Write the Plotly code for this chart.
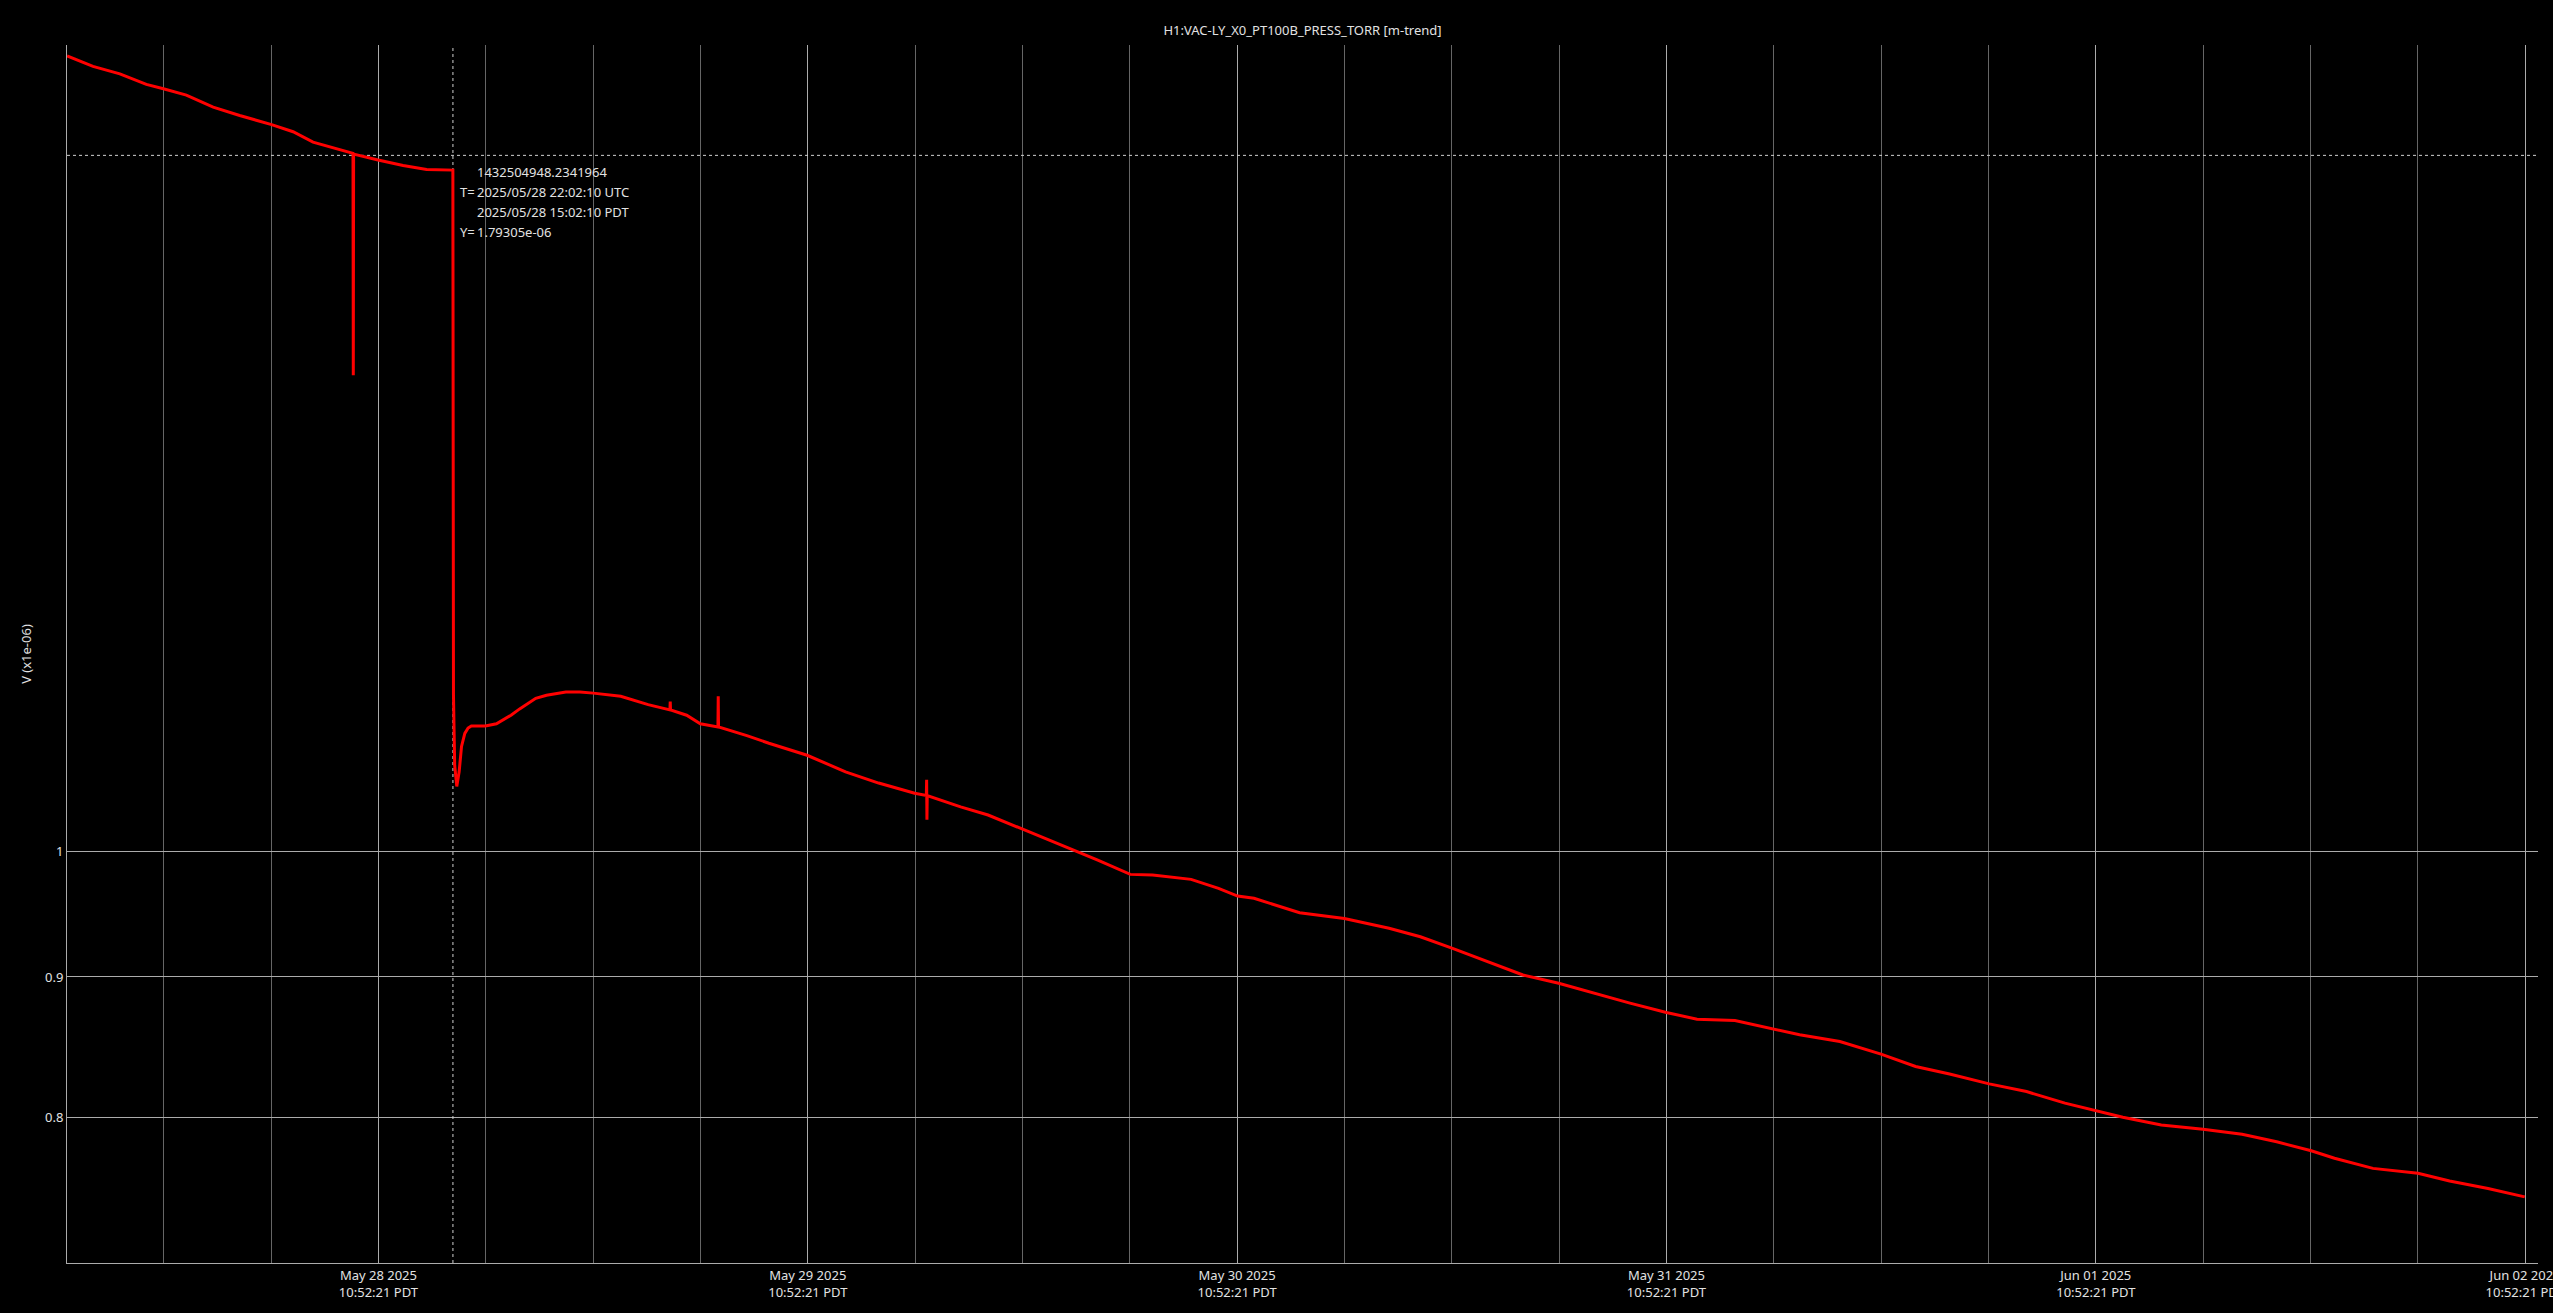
import math
import pandas as pd
import plotly.graph_objects as go

# ---- data (pressure in units of 1e-6 Torr, local PDT time) ----
times = [
    "2025-05-27 17:28", "2025-05-27 18:55", "2025-05-27 20:25", "2025-05-27 21:54",
    "2025-05-27 22:51", "2025-05-28 00:08", "2025-05-28 01:38", "2025-05-28 03:07",
    "2025-05-28 04:54", "2025-05-28 06:06", "2025-05-28 07:13", "2025-05-28 08:32",
    "2025-05-28 09:27", "2025-05-28 09:28", "2025-05-28 09:29", "2025-05-28 10:51",
    "2025-05-28 12:15", "2025-05-28 13:34", "2025-05-28 15:02", "2025-05-28 15:03",
    "2025-05-28 15:04", "2025-05-28 15:08", "2025-05-28 15:15", "2025-05-28 15:23",
    "2025-05-28 15:31", "2025-05-28 15:42", "2025-05-28 15:53", "2025-05-28 16:04",
    "2025-05-28 16:51", "2025-05-28 17:28", "2025-05-28 18:17", "2025-05-28 18:46",
    "2025-05-28 19:40", "2025-05-28 20:16", "2025-05-28 21:21", "2025-05-28 22:08",
    "2025-05-28 22:53", "2025-05-29 00:25", "2025-05-29 01:57", "2025-05-29 03:10",
    "2025-05-29 03:11", "2025-05-29 03:12", "2025-05-29 04:06", "2025-05-29 04:52",
    "2025-05-29 05:51", "2025-05-29 05:52", "2025-05-29 05:53", "2025-05-29 07:28",
    "2025-05-29 08:42", "2025-05-29 10:50", "2025-05-29 12:59", "2025-05-29 14:50",
    "2025-05-29 16:51", "2025-05-29 17:30", "2025-05-29 17:31", "2025-05-29 17:32",
    "2025-05-29 17:33", "2025-05-29 19:25", "2025-05-29 20:57", "2025-05-29 22:51",
    "2025-05-30 00:38", "2025-05-30 01:51", "2025-05-30 03:05", "2025-05-30 04:54",
    "2025-05-30 06:09", "2025-05-30 08:18", "2025-05-30 09:50", "2025-05-30 10:54",
    "2025-05-30 11:49", "2025-05-30 14:22", "2025-05-30 16:52", "2025-05-30 19:22",
    "2025-05-30 21:07", "2025-05-30 22:55", "2025-05-31 01:07", "2025-05-31 02:51",
    "2025-05-31 04:51", "2025-05-31 06:50", "2025-05-31 08:50", "2025-05-31 10:52",
    "2025-05-31 12:35", "2025-05-31 14:42", "2025-05-31 16:52", "2025-05-31 18:19",
    "2025-05-31 20:34", "2025-05-31 22:52", "2025-06-01 00:48", "2025-06-01 02:42",
    "2025-06-01 04:55", "2025-06-01 07:00", "2025-06-01 09:09", "2025-06-01 10:54",
    "2025-06-01 12:23", "2025-06-01 14:32", "2025-06-01 16:52", "2025-06-01 19:03",
    "2025-06-01 20:59", "2025-06-01 22:55", "2025-06-02 00:13", "2025-06-02 02:22",
    "2025-06-02 04:53", "2025-06-02 06:39", "2025-06-02 08:48", "2025-06-02 10:51",
]
pressure = [
    1.949, 1.932, 1.920, 1.903,
    1.896, 1.886, 1.867, 1.854,
    1.840, 1.829, 1.813, 1.803,
    1.796, 1.491, 1.795, 1.786,
    1.778, 1.772, 1.771, 1.400,
    1.140, 1.075, 1.056, 1.069,
    1.092, 1.104, 1.109, 1.111,
    1.111, 1.113, 1.121, 1.127,
    1.137, 1.140, 1.143, 1.143,
    1.142, 1.139, 1.131, 1.126,
    1.134, 1.126, 1.121, 1.113,
    1.110, 1.139, 1.110, 1.102,
    1.095, 1.084, 1.069, 1.059,
    1.050, 1.048, 1.062, 1.027,
    1.048, 1.038, 1.031, 1.019,
    1.008, 1.000, 0.9927, 0.9809,
    0.9803, 0.9768, 0.9694, 0.9632,
    0.9614, 0.9498, 0.9453, 0.9375,
    0.9309, 0.9218, 0.9103, 0.9015,
    0.8953, 0.8879, 0.8805, 0.8736,
    0.8687, 0.8677, 0.8615, 0.8574,
    0.8526, 0.8436, 0.8349, 0.8296,
    0.8228, 0.8175, 0.8096, 0.8043,
    0.8001, 0.7949, 0.7920, 0.7887,
    0.7838, 0.7779, 0.7730, 0.7665,
    0.7633, 0.7584, 0.7537, 0.7484,
]

x_range = ["2025-05-27 17:27:45", "2025-06-02 11:35:33"]
y_range = [0.708, 1.967]

x_tickvals = ["2025-05-28 10:52:21", "2025-05-29 10:52:21", "2025-05-30 10:52:21",
              "2025-05-31 10:52:21", "2025-06-01 10:52:21", "2025-06-02 10:52:21"]
x_ticktext = ["May 28 2025<br>10:52:21 PDT", "May 29 2025<br>10:52:21 PDT",
              "May 30 2025<br>10:52:21 PDT", "May 31 2025<br>10:52:21 PDT",
              "Jun 01 2025<br>10:52:21 PDT", "Jun 02 2025<br>10:52:21 PDT"]
y_tickvals = [0.8, 0.9, 1.0]
y_ticktext = ["0.8", "0.9", "1"]

cursor_time = "2025-05-28 15:02:10"
cursor_value = 1.79305
cursor_labels = ["", "T=", "", "Y="]
cursor_texts = ["1432504948.2341964", "2025/05/28 22:02:10 UTC",
                "2025/05/28 15:02:10 PDT", "1.79305e-06"]

title_text = "H1:VAC-LY_X0_PT100B_PRESS_TORR [m-trend]"
y_title = "V (x1e-06)"

# ---- figure ----
W, H = 2553, 1313
ML, MR, MT, MB = 67, 15, 45, 50
plot_h = H - MT - MB

FONT = "Noto Sans, Open Sans, DejaVu Sans, sans-serif"
TXT = "#e2e2e2"
MAJOR = "#ababab"
MINOR = "#666666"

fig = go.Figure()

# crosshair (drawn first so the data sits on top)
fig.add_trace(go.Scatter(
    x=[x_range[0], x_range[1]], y=[cursor_value, cursor_value], mode="lines",
    line=dict(color="#d0d0d0", width=1, dash="dot"), hoverinfo="skip", showlegend=False))
fig.add_trace(go.Scatter(
    x=[cursor_time, cursor_time], y=[y_range[0], y_range[1]], mode="lines",
    line=dict(color="#d0d0d0", width=1, dash="dot"), hoverinfo="skip", showlegend=False))

fig.add_trace(go.Scatter(
    x=pd.to_datetime(times), y=pressure, mode="lines",
    line=dict(color="#ff0000", width=3), showlegend=False,
    name="H1:VAC-LY_X0_PT100B_PRESS_TORR"))

line_y_px = [171.7, 191.7, 211.7, 231.7]
annotations = []
for lab, txt, ypx in zip(cursor_labels, cursor_texts, line_y_px):
    yp = (H - MB - ypx) / plot_h
    if lab:
        annotations.append(dict(x=cursor_time, xref="x", y=yp, yref="paper",
                                text=lab, showarrow=False, xanchor="left", yanchor="middle",
                                xshift=5, font=dict(family=FONT, size=13, color=TXT)))
    annotations.append(dict(x=cursor_time, xref="x", y=yp, yref="paper",
                            text=txt, showarrow=False, xanchor="left", yanchor="middle",
                            xshift=22, font=dict(family=FONT, size=13, color=TXT)))

fig.update_layout(
    width=W, height=H,
    margin=dict(l=ML, r=MR, t=MT, b=MB, pad=0, autoexpand=False),
    paper_bgcolor="#000000", plot_bgcolor="#000000",
    font=dict(family=FONT, size=13, color=TXT),
    title=dict(text=title_text, x=(ML + (W - MR)) / 2 / W, xanchor="center",
               y=1 - 30.5 / H, yanchor="middle", yref="container",
               font=dict(family=FONT, size=13, color=TXT)),
    showlegend=False,
    annotations=annotations,
    xaxis=dict(
        type="date", range=x_range, automargin=False,
        tickmode="array", tickvals=x_tickvals, ticktext=x_ticktext,
        ticklabeloverflow="allow",
        showgrid=True, gridcolor=MAJOR, gridwidth=1,
        showline=True, linecolor=MAJOR, linewidth=1,
        zeroline=False, ticks="", ticklen=0,
        tickfont=dict(family=FONT, size=13, color=TXT),
        minor=dict(tickmode="linear", tick0="2025-05-28 10:52:21", dtick=6 * 3600 * 1000,
                   showgrid=True, gridcolor=MINOR, gridwidth=1, ticks=""),
    ),
    yaxis=dict(
        type="log", range=[math.log10(y_range[0]), math.log10(y_range[1])], automargin=False,
        tickmode="array", tickvals=y_tickvals, ticktext=y_ticktext,
        showgrid=True, gridcolor=MAJOR, gridwidth=1,
        showline=True, linecolor=MAJOR, linewidth=1,
        zeroline=False, ticks="", ticklen=0,
        tickfont=dict(family=FONT, size=13, color=TXT),
        title=dict(text=y_title, standoff=10, font=dict(family=FONT, size=13, color=TXT)),
    ),
)

fig.write_html("out.html", config={"displayModeBar": False},
               post_script="document.body.style.margin='0';document.body.style.overflow='hidden';")
